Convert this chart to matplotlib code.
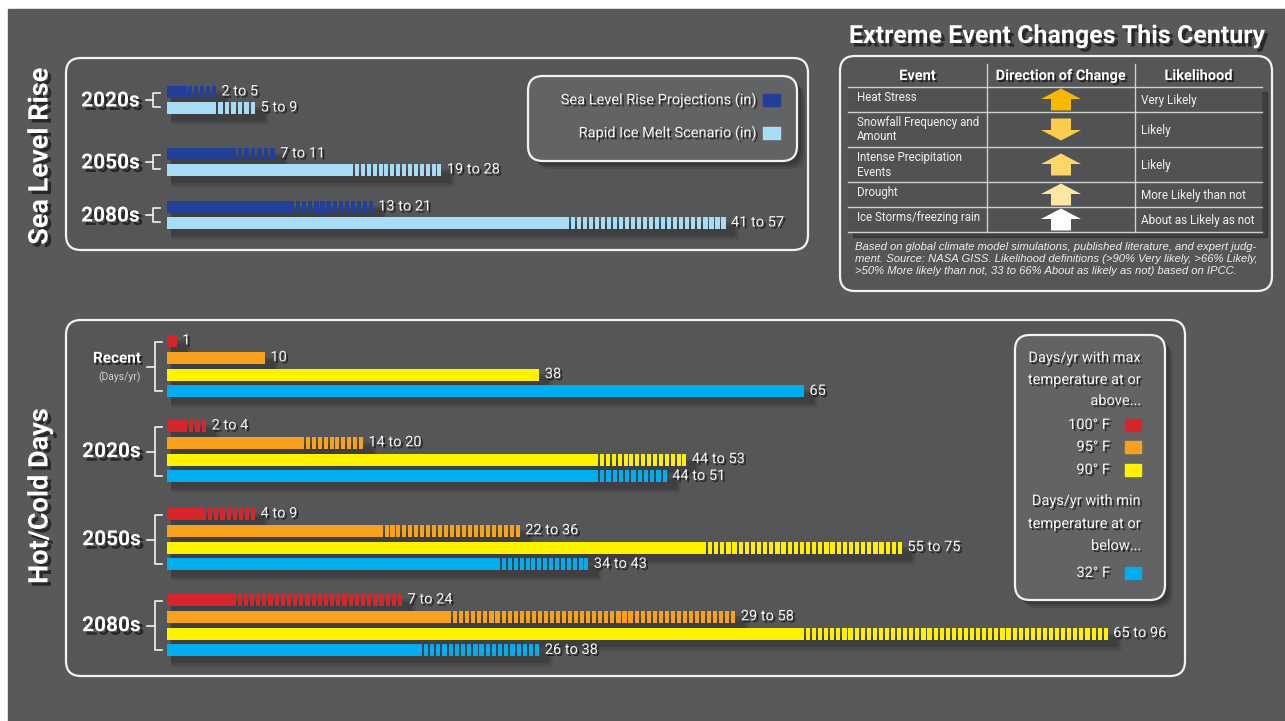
import numpy as np
import matplotlib.pyplot as plt
import matplotlib.patheffects as pe
from matplotlib.patches import FancyBboxPatch, Polygon, Rectangle

W, H = 1285, 721
PX = 9.8  # pixels per unit on both bar charts
NARROW = ['Roboto', 'Liberation Sans', 'DejaVu Sans']
PLAIN = ['Liberation Sans', 'DejaVu Sans']

# sea level rise (inches)
sea_periods = ['2020s', '2050s', '2080s']
slr_low = [2, 7, 13]
slr_high = [5, 11, 21]
rim_low = [5, 19, 41]
rim_high = [9, 28, 57]

# hot / cold days per year
temp_periods = ['Recent', '2020s', '2050s', '2080s']
d100_low = [1, 2, 4, 7]
d100_high = [1, 4, 9, 24]
d95_low = [10, 14, 22, 29]
d95_high = [10, 20, 36, 58]
d90_low = [38, 44, 55, 65]
d90_high = [38, 53, 75, 96]
d32_low = [65, 44, 34, 26]
d32_high = [65, 51, 43, 38]
temp_labels = ['100° F', '95° F', '90° F', '32° F']

# extreme event table
events = ['Heat Stress', 'Snowfall Frequency and\nAmount', 'Intense Precipitation\nEvents',
          'Drought', 'Ice Storms/freezing rain']
directions = ['up', 'down', 'up', 'up', 'up']
likelihood = ['Very Likely', 'Likely', 'Likely', 'More Likely than not', 'About as Likely as not']
arrow_colors = ['#f6b800', '#fccd4c', '#fdd66a', '#fde6a4', '#ffffff']

C_SLR, C_RIM = '#233f98', '#a8dcf5'
C_TEMP = ['#d7262b', '#f7a11c', '#fff200', '#00aeef']
BG, PANEL, LINE = '#58595b', '#555658', '#f2f2f2'

TXT_FX = [pe.SimplePatchShadow(offset=(1.5, -1.5), shadow_rgbFace='black', alpha=0.6), pe.Normal()]
BIG_FX = [pe.SimplePatchShadow(offset=(2.5, -2.5), shadow_rgbFace='black', alpha=0.55), pe.Normal()]


def rbox(ax, x0, y0, x1, y1, fc, r=15, lw=1.6, shadow=False):
    if shadow:
        for k, a in [(8, 0.10), (6, 0.12), (4, 0.15)]:
            ax.add_patch(FancyBboxPatch((x0 + k, y0 + k), x1 - x0, y1 - y0,
                                        boxstyle=f'round,pad=0,rounding_size={r}',
                                        fc='black', ec='none', alpha=a))
    ax.add_patch(FancyBboxPatch((x0, y0), x1 - x0, y1 - y0,
                                boxstyle=f'round,pad=0,rounding_size={r}',
                                fc=fc, ec=LINE, lw=lw))


def range_bar(ax, y, lo, hi, color, h=12, label=None):
    # soft drop shadow under the whole bar
    for dy, dx, a in [(10, 1.0, 0.06), (8, 0.8, 0.09), (6, 0.6, 0.12)]:
        ax.barh(y + dy, hi + dx, left=0.4, height=h + 2, color='black', alpha=a, lw=0)
    ax.barh(y, lo, height=h, color=color, lw=0)
    if hi > lo:
        n = max(1, int(round((hi - lo) / 0.62)))
        p = (hi - lo) / n
        sw = p * 0.68
        starts = lo + np.arange(n) * p + (p - sw)
        ax.barh(np.full(n, y), sw, left=starts, height=h, color=color, lw=0)
    ax.text(hi + 0.55, y - 0.5, label, va='center', ha='left', color='#f4f4f4',
            fontsize=10.5, family=NARROW, path_effects=TXT_FX)


def bracket(ax, x, y0, y1, stub=8, tick=7):
    ym = (y0 + y1) / 2
    ax.plot([x + tick, x, x, x + tick], [y0, y0, y1, y1], color=LINE, lw=1.2)
    ax.plot([x - stub, x], [ym, ym], color=LINE, lw=1.2)


fig = plt.figure(figsize=(W / 100, H / 100), dpi=100, facecolor='white')
bg = fig.add_axes([0, 0, 1, 1])
bg.set_xlim(0, W)
bg.set_ylim(H, 0)
bg.axis('off')
bg.add_patch(Rectangle((8, 9), W - 8, H - 9, color=BG))

# panels
rbox(bg, 66, 58, 808, 250, PANEL)
rbox(bg, 66, 320, 1185, 676, PANEL)
rbox(bg, 840, 56, 1272, 291, PANEL)

# side titles
bg.text(40, 156, 'Sea Level Rise', rotation=90, ha='center', va='center', color='white',
        fontsize=19.5, fontweight='bold', family=NARROW, path_effects=BIG_FX)
bg.text(40, 496, 'Hot/Cold Days', rotation=90, ha='center', va='center', color='white',
        fontsize=19.5, fontweight='bold', family=NARROW, path_effects=BIG_FX)

# ---- sea level chart ----
sea_ax = fig.add_axes([167 / W, 0, 62 * PX / W, 1], facecolor='none')
sea_ax.set_xlim(0, 62)
sea_ax.set_ylim(H, 0)
sea_ax.axis('off')
sea_y = [92, 154, 207]
for i, per in enumerate(sea_periods):
    y = sea_y[i]
    range_bar(sea_ax, y, slr_low[i], slr_high[i], C_SLR, h=12,
              label=f'{slr_low[i]} to {slr_high[i]}')
    range_bar(sea_ax, y + 16, rim_low[i], rim_high[i], C_RIM, h=12,
              label=f'{rim_low[i]} to {rim_high[i]}')
    bg.text(140, y + 9, per, ha='right', va='center', color='white', fontsize=15,
            fontweight='bold', family=NARROW, path_effects=BIG_FX)
    bracket(bg, 153, y + 1, y + 15, stub=7, tick=7)

rbox(bg, 528, 76, 797, 161, '#626365', shadow=True)
for ty, txt, c in [(100, 'Sea Level Rise Projections (in)', C_SLR),
                   (133, 'Rapid Ice Melt Scenario (in)', C_RIM)]:
    bg.text(757, ty, txt, ha='right', va='center', color='#f4f4f4', fontsize=10.5,
            family=NARROW, path_effects=TXT_FX)
    bg.add_patch(Rectangle((763, ty - 6), 17, 12, color=c))

# ---- hot / cold chart ----
hot_ax = fig.add_axes([167 / W, 0, 105 * PX / W, 1], facecolor='none')
hot_ax.set_xlim(0, 105)
hot_ax.set_ylim(H, 0)
hot_ax.axis('off')
group_y = [341, 426, 514, 600]
lows = [d100_low, d95_low, d90_low, d32_low]
highs = [d100_high, d95_high, d90_high, d32_high]
for g, per in enumerate(temp_periods):
    for s in range(4):
        y = group_y[g] + s * 16.8
        lo, hi = lows[s][g], highs[s][g]
        lab = str(lo) if lo == hi else f'{lo} to {hi}'
        range_bar(hot_ax, y, lo, hi, C_TEMP[s], h=12, label=lab)
    top, bot = group_y[g] + 1, group_y[g] + 3 * 16.8
    bracket(bg, 155, top, bot, stub=8, tick=7)
    mid = (top + bot) / 2
    if per == 'Recent':
        bg.text(141, mid - 8, per, ha='right', va='center', color='white', fontsize=11,
                fontweight='bold', family=NARROW, path_effects=TXT_FX)
        bg.text(141, mid + 11, '(Days/yr)', ha='right', va='center', color='#cfcfcf',
                fontsize=7.5, family=NARROW)
    else:
        bg.text(141, mid, per, ha='right', va='center', color='white', fontsize=15,
                fontweight='bold', family=NARROW, path_effects=BIG_FX)

rbox(bg, 1015, 335, 1165, 600, '#626365', shadow=True)
leg_lines = [(358, 'Days/yr with max'), (380, 'temperature at or'), (401, 'above...'),
             (501, 'Days/yr with min'), (524, 'temperature at or'), (546, 'below...')]
for ty, txt in leg_lines:
    bg.text(1141, ty, txt, ha='right', va='center', color='#f4f4f4', fontsize=10.5,
            family=NARROW, path_effects=TXT_FX)
for ty, txt, c in zip([425, 447, 470, 573], temp_labels, C_TEMP):
    bg.text(1110, ty, txt, ha='right', va='center', color='#f4f4f4', fontsize=10.5,
            family=NARROW, path_effects=TXT_FX)
    bg.add_patch(Rectangle((1125, ty - 6), 16, 12, color=c))

# ---- extreme event table ----
bg.text(1057, 36, 'Extreme Event Changes This Century', ha='center', va='center',
        color='white', fontsize=18, fontweight='bold', family=NARROW, path_effects=BIG_FX)
cols = [848, 987, 1135, 1262]
rows = [87, 112, 147, 182, 207, 232]
bg.add_patch(Rectangle((cols[0] + 5, rows[0] + 5), cols[-1] - cols[0], rows[-1] - rows[0],
                       color='black', alpha=0.25))
bg.add_patch(Rectangle((cols[0], rows[0]), cols[-1] - cols[0], rows[-1] - rows[0],
                       fc='#515254', ec='none'))
for yy in rows:
    bg.plot([cols[0], cols[-1]], [yy, yy], color='#cfcfcf', lw=1)
for xx in cols[1:-1]:
    bg.plot([xx, xx], [64, rows[-1]], color='#cfcfcf', lw=1)
for head, x0, x1 in zip(['Event', 'Direction of Change', 'Likelihood'], cols[:-1], cols[1:]):
    bg.text((x0 + x1) / 2, 76, head, ha='center', va='center', color='white', fontsize=10.5,
            fontweight='bold', family=NARROW, path_effects=TXT_FX)
for i, ev in enumerate(events):
    y0, y1 = rows[i], rows[i + 1]
    bg.text(cols[0] + 9, y0 + 4, ev, ha='left', va='top', color='#f0f0f0', fontsize=8.3,
            family=NARROW, linespacing=1.15)
    bg.text(cols[2] + 6, (y0 + y1) / 2 + 1, likelihood[i], ha='left', va='center',
            color='#f0f0f0', fontsize=8.5, family=NARROW)
    cx, cy = 1061, (y0 + y1) / 2
    s = 1 if directions[i] == 'up' else -1
    tip = cy - s * 11
    neck = cy - s * 0.5
    base = cy + s * 11
    pts = [(cx, tip), (cx + 20, neck), (cx + 10, neck), (cx + 10, base),
           (cx - 10, base), (cx - 10, neck), (cx - 20, neck)]
    bg.add_patch(Polygon(pts, closed=True, fc=arrow_colors[i], ec='none'))

note = ('Based on global climate model simulations, published literature, and expert judg-\n'
        'ment. Source: NASA GISS. Likelihood definitions (>90% Very likely, >66% Likely,\n'
        '>50% More likely than not, 33 to 66% About as likely as not) based on IPCC.')
bg.text(855, 259, note, ha='left', va='center', color='#eeeeee', fontsize=8.1,
        style='italic', family=PLAIN, linespacing=1.25)

fig.savefig('out.png', dpi=100, facecolor=fig.get_facecolor())
